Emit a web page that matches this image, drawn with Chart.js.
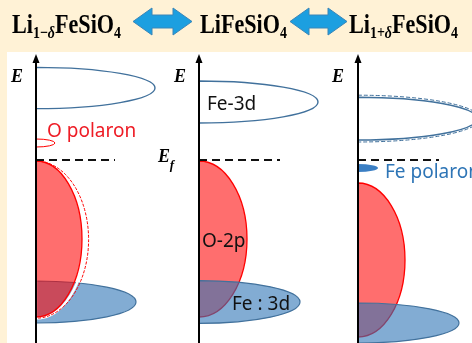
<!DOCTYPE html>
<html>
<head>
<meta charset="utf-8">
<script src="https://cdn.jsdelivr.net/npm/chart.js@4.4.0/dist/chart.umd.min.js"></script>
<style>
  html, body { margin: 0; padding: 0; background: #fff2d6; }
  #wrap { width: 472px; height: 343px; }
</style>
</head>
<body>
<div id="wrap"><canvas id="myChart" width="472" height="343"></canvas></div>
<script>
// energy in arbitrary units (Ef = 0), DOS in arbitrary units
const panels = ['Li1-δFeSiO4', 'LiFeSiO4', 'Li1+δFeSiO4'];
const dosOrigin = [1.8, 9.95, 17.9];
const fermiLevel = [0, 0, 0];
const fermiLen = [3.95, 4.05, 4.05];

// Fe-3d (empty, upper)
const feUpE = [3.6, 2.9, 2.07];
const feUpHalf = [1.03, 1.05, 1.07];
const feUpDos = [5.95, 5.95, 5.95];

// O-2p (filled)
const o2pE = [-3.95, -3.95, -5.0];
const o2pHalf = [3.9, 3.9, 3.85];
const o2pDos = [2.3, 2.4, 2.35];

// Fe:3d (filled, lower)
const feLowE = [-7.1, -7.1, -8.15];
const feLowHalf = [1.05, 1.07, 1.0];
const feLowDos = [5.0, 5.05, 5.05];

// polaron states
const polaronE = [0.85, null, -0.4];
const polaronHalf = [0.2, null, 0.2];
const polaronDos = [0.95, null, 1.0];

const eMin = -9.15, eMax = 8.0, axisTop = 5.15;

// text labels [text, dos, energy, colour]
const bandLabels = [
  ['O polaron', 2.35, 1.4, '#ee1c25'],
  ['Fe-3d', 10.35, 2.75, '#111'],
  ['O-2p', 10.1, -4.1, '#111'],
  ['Fe : 3d', 11.6, -7.25, '#111'],
  ['Fe polaron', 19.25, -0.65, '#2e75b6']
];

const RED = 'rgba(255,0,0,0.57)';
const BLUE = 'rgba(46,117,182,0.6)';
const BLUE_LINE = '#41719c';

const datasets = [];
dosOrigin.forEach((x0, i) => {
  datasets.push({
    data: [{x: x0, y: eMin}, {x: x0, y: axisTop}],
    borderColor: '#000', borderWidth: 2, showLine: true, pointRadius: 0
  });
  datasets.push({
    data: [{x: x0, y: fermiLevel[i]}, {x: x0 + fermiLen[i], y: fermiLevel[i]}],
    borderColor: '#111', borderWidth: 2.2, borderDash: [8, 5], showLine: true, pointRadius: 0
  });
});

function half(ctx, chart, x0, e, h, w) {
  const xs = chart.scales.x, ys = chart.scales.y;
  const cx = xs.getPixelForValue(x0), cy = ys.getPixelForValue(e);
  const rx = xs.getPixelForValue(x0 + w) - cx;
  const ry = ys.getPixelForValue(e - h) - cy;
  ctx.beginPath();
  ctx.ellipse(cx, cy, rx, ry, 0, -Math.PI / 2, Math.PI / 2);
  ctx.closePath();
}

// title formula, squeezed horizontally like the original
function formula(ctx, x, base, parts) {
  ctx.save();
  ctx.translate(x, base);
  ctx.scale(0.82, 1);
  let cx = 0;
  parts.forEach(p => {
    const size = p.sub ? 17 : 27;
    ctx.font = (p.it ? 'italic ' : '') + 'bold ' + size + 'px "Liberation Serif"';
    ctx.fillText(p.t, cx, p.sub ? 5 : 0);
    cx += ctx.measureText(p.t).width;
  });
  ctx.restore();
}

function dblArrow(ctx, x1, x2, yc) {
  const hh = 13.5, sh = 6.5, hl = 19;
  ctx.beginPath();
  ctx.moveTo(x1, yc);
  ctx.lineTo(x1 + hl, yc - hh);
  ctx.lineTo(x1 + hl, yc - sh);
  ctx.lineTo(x2 - hl, yc - sh);
  ctx.lineTo(x2 - hl, yc - hh);
  ctx.lineTo(x2, yc);
  ctx.lineTo(x2 - hl, yc + hh);
  ctx.lineTo(x2 - hl, yc + sh);
  ctx.lineTo(x1 + hl, yc + sh);
  ctx.lineTo(x1 + hl, yc + hh);
  ctx.closePath();
  ctx.fillStyle = '#1c9fe0';
  ctx.fill();
  ctx.strokeStyle = '#3a86b8';
  ctx.lineWidth = 1;
  ctx.stroke();
}

const bandDiagram = {
  id: 'bandDiagram',
  beforeDraw(chart) {
    const ctx = chart.ctx;
    ctx.save();
    ctx.fillStyle = '#fff2d6';
    ctx.fillRect(0, 0, 472, 343);
    ctx.fillStyle = '#fff';
    ctx.fillRect(7, 52, 465, 291);
    // title
    ctx.fillStyle = '#000';
    ctx.textBaseline = 'alphabetic';
    formula(ctx, 12, 33, [{t: 'Li'}, {t: '1−', sub: 1}, {t: 'δ', sub: 1, it: 1}, {t: 'FeSiO'}, {t: '4', sub: 1}]);
    formula(ctx, 200, 33, [{t: 'LiFeSiO'}, {t: '4', sub: 1}]);
    formula(ctx, 349, 33, [{t: 'Li'}, {t: '1+', sub: 1}, {t: 'δ', sub: 1, it: 1}, {t: 'FeSiO'}, {t: '4', sub: 1}]);
    dblArrow(ctx, 133, 192, 21.5);
    dblArrow(ctx, 290, 347, 21.5);
    ctx.restore();
  },
  beforeDatasetsDraw(chart) {
    const ctx = chart.ctx;
    ctx.save();
    dosOrigin.forEach((x0, i) => {
      // upper empty Fe-3d
      half(ctx, chart, x0, feUpE[i], feUpHalf[i], feUpDos[i]);
      ctx.strokeStyle = BLUE_LINE; ctx.lineWidth = 1.4; ctx.setLineDash([]);
      ctx.stroke();
      if (i === 2) {
        half(ctx, chart, x0, feUpE[i], feUpHalf[i] + 0.1, feUpDos[i] + 0.15);
        ctx.setLineDash([4, 2]); ctx.lineWidth = 1;
        ctx.stroke();
        ctx.setLineDash([]);
      }
      const drawRed = () => {
        if (i === 0) {
          half(ctx, chart, x0, o2pE[i] - 0.03, o2pHalf[i] + 0.05, o2pDos[i] + 0.15);
          ctx.strokeStyle = '#fff'; ctx.lineWidth = 2.5; ctx.stroke();
          half(ctx, chart, x0, o2pE[i] - 0.03, o2pHalf[i] + 0.03, o2pDos[i] + 0.33);
          ctx.strokeStyle = '#ff0000'; ctx.lineWidth = 1; ctx.setLineDash([3, 1.5]); ctx.stroke();
          ctx.setLineDash([]);
        }
        half(ctx, chart, x0, o2pE[i], o2pHalf[i], o2pDos[i]);
        ctx.fillStyle = RED; ctx.fill();
        ctx.strokeStyle = '#ff0000'; ctx.lineWidth = 1.3; ctx.stroke();
      };
      const drawBlue = () => {
        half(ctx, chart, x0, feLowE[i], feLowHalf[i], feLowDos[i]);
        ctx.fillStyle = BLUE; ctx.fill();
        ctx.strokeStyle = BLUE_LINE; ctx.lineWidth = 1.2; ctx.stroke();
      };
      if (i === 0) { drawBlue(); drawRed(); } else { drawRed(); drawBlue(); }
      if (polaronE[i] !== null) {
        half(ctx, chart, x0, polaronE[i], polaronHalf[i], polaronDos[i]);
        if (i === 0) {
          ctx.strokeStyle = '#ff0000'; ctx.lineWidth = 1; ctx.stroke();
        } else {
          ctx.fillStyle = '#3b7fc4'; ctx.fill();
        }
      }
    });
    ctx.restore();
  },
  afterDatasetsDraw(chart) {
    const ctx = chart.ctx;
    const xs = chart.scales.x, ys = chart.scales.y;
    ctx.save();
    // axis arrow heads
    dosOrigin.forEach(x0 => {
      const x = xs.getPixelForValue(x0), y = ys.getPixelForValue(axisTop);
      ctx.beginPath();
      ctx.moveTo(x, y - 3);
      ctx.lineTo(x - 3.5, y + 6);
      ctx.lineTo(x + 3.5, y + 6);
      ctx.closePath();
      ctx.fillStyle = '#000';
      ctx.fill();
    });
    // E labels
    ctx.textBaseline = 'middle';
    ctx.textAlign = 'center';
    ctx.font = 'italic bold 18px "Liberation Serif"';
    ctx.fillStyle = '#000';
    [0.85, 9.0, 16.9].forEach(x => ctx.fillText('E', xs.getPixelForValue(x), ys.getPixelForValue(4.15)));
    ctx.fillText('E', xs.getPixelForValue(8.2), ys.getPixelForValue(0.15));
    ctx.font = 'italic bold 13px "Liberation Serif"';
    ctx.fillText('f', xs.getPixelForValue(8.6), ys.getPixelForValue(-0.3));
    // band labels
    ctx.textAlign = 'left';
    ctx.font = '19px "Noto Sans"';
    bandLabels.forEach(([t, x, e, c]) => {
      ctx.fillStyle = c;
      ctx.fillText(t, xs.getPixelForValue(x), ys.getPixelForValue(e));
    });
    ctx.restore();
  }
};

const config = {
  type: 'scatter',
  data: { datasets },
  options: {
    responsive: false,
    animation: false,
    layout: { padding: 0 },
    scales: {
      x: { type: 'linear', min: 0, max: 23.6, display: false },
      y: { type: 'linear', min: eMin, max: eMax, display: false }
    },
    plugins: { legend: { display: false }, tooltip: { enabled: false } }
  },
  plugins: [bandDiagram]
};

const myChart = new Chart(document.getElementById('myChart'), config);
</script>
</body>
</html>
